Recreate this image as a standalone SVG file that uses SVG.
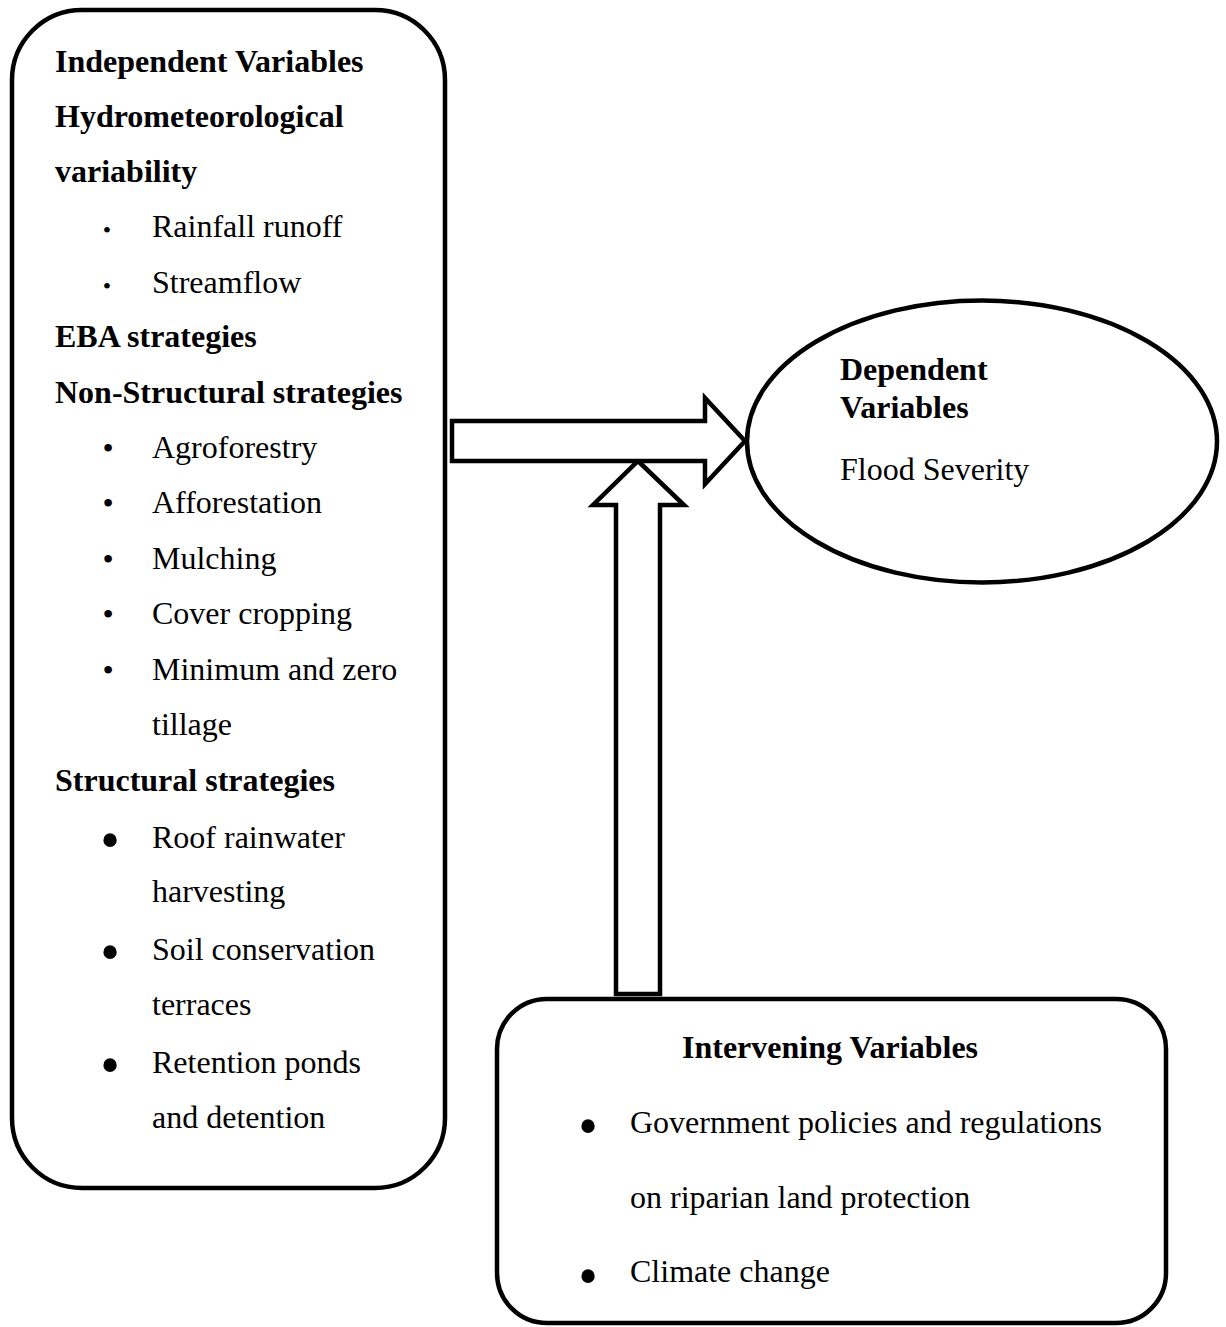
<svg xmlns="http://www.w3.org/2000/svg" width="1226" height="1327" viewBox="0 0 1226 1327">
<style>
.box{fill:#fff;stroke:#000;stroke-width:4.5}
.arr{fill:#fff;stroke:#000;stroke-width:4.5;stroke-linejoin:miter}
text{font-family:"Liberation Serif","Times New Roman",serif;font-size:32px;fill:#000}
.b{font-weight:bold}
.bs{font-size:24px;text-anchor:middle}
.bm{font-size:32px;text-anchor:middle}
.bl{font-size:56px;text-anchor:middle}
</style>
<rect width="1226" height="1327" fill="#fff"/>
<g id="independent">
<rect class="box" x="12" y="10" width="433" height="1178" rx="70" ry="70"/>
<text class="b" x="55" y="72">Independent Variables</text>
<text class="b" x="55" y="127">Hydrometeorological</text>
<text class="b" x="55" y="182">variability</text>
<text class="bs" x="107" y="238">•</text><text x="152" y="237">Rainfall runoff</text>
<text class="bs" x="107" y="294">•</text><text x="152" y="293">Streamflow</text>
<text class="b" x="55" y="347">EBA strategies</text>
<text class="b" x="55" y="403">Non-Structural strategies</text>
<text class="bm" x="108" y="459">•</text><text x="152" y="458">Agroforestry</text>
<text class="bm" x="108" y="514">•</text><text x="152" y="513">Afforestation</text>
<text class="bm" x="108" y="570">•</text><text x="152" y="569">Mulching</text>
<text class="bm" x="108" y="625">•</text><text x="152" y="624">Cover cropping</text>
<text class="bm" x="108" y="681">•</text><text x="152" y="680">Minimum and zero</text>
<text x="152" y="735">tillage</text>
<text class="b" x="55" y="791">Structural strategies</text>
<text class="bl" x="110" y="859">•</text><text x="152" y="848">Roof rainwater</text>
<text x="152" y="902">harvesting</text>
<text class="bl" x="110" y="971">•</text><text x="152" y="960">Soil conservation</text>
<text x="152" y="1015">terraces</text>
<text class="bl" x="110" y="1084">•</text><text x="152" y="1073">Retention ponds</text>
<text x="152" y="1128">and detention</text>
</g>
<g id="dependent">
<ellipse class="box" cx="982" cy="441.5" rx="235" ry="141"/>
<text class="b" x="840" y="380">Dependent</text>
<text class="b" x="840" y="418">Variables</text>
<text x="840" y="480">Flood Severity</text>
</g>
<g id="intervening">
<rect class="box" x="497" y="999" width="669" height="324" rx="50" ry="50"/>
<text class="b" x="682" y="1058">Intervening Variables</text>
<text class="bl" x="588" y="1145">•</text><text x="630" y="1133">Government policies and regulations</text>
<text x="630" y="1208">on riparian land protection</text>
<text class="bl" x="588" y="1295">•</text><text x="630" y="1282">Climate change</text>
</g>
<g id="connectors">
<polygon class="arr" points="616,994 616,505 593,505 638,461 684,505 660,505 660,994"/>
<polygon class="arr" points="452,421 705,421 705,398 745,441 705,484 705,461 452,461"/>
</g>
</svg>
